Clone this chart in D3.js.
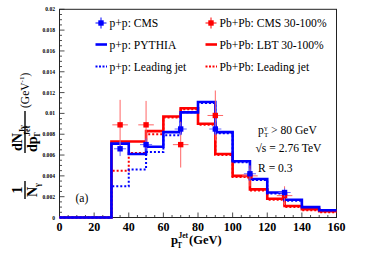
<!DOCTYPE html>
<html>
<head lang="en">
    <meta charset="UTF-8">
    <title>Photon-tagged jet spectrum</title>
    <script src="https://cdnjs.cloudflare.com/ajax/libs/d3/7.8.5/d3.min.js" charset="utf-8"></script>
    <style>
        body { margin: 0; background: white; }
    </style>
</head>

<body>
<div id="chart"></div>
<script>

// bin edges 0..160 in steps of 10
var binEdges = d3.range(0, 161, 10);

// histograms (one value per 10 GeV bin)
var ppPythia   = [0, 0, 0, 0.0071, 0.0061, 0.0068, 0.0082, 0.0101, 0.0111, 0.0082, 0.0054, 0.0037, 0.0024, 0.0017, 0.0010, 0.0007];
var ppLeading  = [0, 0, 0, 0.0030, 0.0046, 0.0063, 0.0079, 0.0101, 0.0110, 0.0081, 0.0053, 0.0036, 0.0023, 0.0016, 0.0010, 0.0007];
var pbLbt      = [0, 0, 0, 0.0073, 0.0073, 0.0083, 0.0097, 0.0105, 0.0090, 0.0061, 0.0040, 0.0027, 0.0018, 0.0011, 0.0008, 0.0006];
var pbLeading  = [0, 0, 0, 0.0045, 0.0062, 0.0080, 0.0096, 0.0104, 0.0089, 0.0060, 0.0039, 0.0026, 0.0017, 0.0010, 0.0007, 0.0005];

// CMS data points
var cmsX      = [35, 50, 70, 90, 110, 130];
var ppCms     = [0.0066, 0.0070, 0.0085, 0.0085, 0.0042, 0.0024];
var ppCmsErr  = [0.0007, 0.0006, 0.0006, 0.0006, 0.0005, 0.0004];
var pbCms     = [0.0089, 0.0089, 0.0070, 0.0098, 0.0040, 0.0021];
var pbCmsErr  = [0.0024, 0.0023, 0.0022, 0.0024, 0.0010, 0.0009];

var xTicks = [0, 20, 40, 60, 80, 100, 120, 140, 160];
var yTicks = [0, 0.002, 0.004, 0.006, 0.008, 0.01, 0.012, 0.014, 0.016, 0.018, 0.02];

var svgWidth = 365, svgHeight = 262;
var margin = {top: 9.3, bottom: 44.5, left: 59.5, right: 28.5};

var svg = d3.select('#chart').append('svg')
    .attr('width', svgWidth)
    .attr('height', svgHeight)
    .attr('font-family', '"Liberation Serif", "Times New Roman", Times, serif');

var x = d3.scaleLinear().domain([0, 160]).range([margin.left, svgWidth - margin.right]);
var y = d3.scaleLinear().domain([0, 0.02]).range([svgHeight - margin.bottom, margin.top]);

var blue = '#0000ff', red = '#ff0000';

// frame
svg.append('rect')
    .attr('x', x(0)).attr('y', y(0.02))
    .attr('width', x(160) - x(0)).attr('height', y(0) - y(0.02))
    .attr('fill', 'none').attr('stroke', '#222').attr('stroke-width', 1);

// ticks (inside)
var xMinor = d3.range(0, 161, 5);
svg.selectAll('.xt').data(xMinor).enter().append('line')
    .attr('x1', function(d){ return x(d); }).attr('x2', function(d){ return x(d); })
    .attr('y1', y(0)).attr('y2', function(d){ return y(0) - (d % 20 === 0 ? 5 : 2.5); })
    .attr('stroke', '#222').attr('stroke-width', 0.8);

var yMinor = d3.range(0, 41).map(function(i){ return i * 0.0005; });
svg.selectAll('.yt').data(yMinor).enter().append('line')
    .attr('y1', function(d){ return y(d); }).attr('y2', function(d){ return y(d); })
    .attr('x1', x(0)).attr('x2', function(d, i){ return x(0) + (i % 4 === 0 ? 5 : 2.5); })
    .attr('stroke', '#222').attr('stroke-width', 0.8);

// tick labels
svg.selectAll('.xl').data(xTicks).enter().append('text')
    .attr('x', function(d){ return x(d); }).attr('y', 231)
    .attr('text-anchor', 'middle').attr('font-size', 12).attr('font-weight', 'bold')
    .text(function(d){ return d; });

svg.selectAll('.yl').data(yTicks).enter().append('text')
    .attr('x', 55).attr('y', function(d){ return y(d) + 2; })
    .attr('text-anchor', 'end').attr('font-size', 5.6).attr('font-weight', 'bold')
    .text(function(d){ return d === 0 ? '0' : d3.format('.3~f')(d); });

// histogram as steps
function steps(vals) {
    var pts = [];
    vals.forEach(function(v, i){
        pts.push([binEdges[i], v]);
        pts.push([binEdges[i + 1], v]);
    });
    return pts;
}
var line = d3.line().x(function(d){ return x(d[0]); }).y(function(d){ return y(d[1]); });

function drawHist(vals, color, dotted) {
    svg.append('path').datum(steps(vals))
        .attr('d', line)
        .attr('fill', 'none')
        .attr('stroke', color)
        .attr('stroke-width', dotted ? 2 : 2.6)
        .attr('stroke-dasharray', dotted ? '2,2' : null);
}

drawHist(pbLbt, red, false);
drawHist(pbLeading, red, true);
drawHist(ppPythia, blue, false);
drawHist(ppLeading, blue, true);

// data points with error bars
function drawPoints(vals, errs, color, xerr, errColor) {
    var g = svg.append('g');
    cmsX.forEach(function(xv, i){
        g.append('line')
            .attr('x1', x(xv)).attr('x2', x(xv))
            .attr('y1', y(vals[i] - errs[i])).attr('y2', y(vals[i] + errs[i]))
            .attr('stroke', errColor).attr('stroke-width', 1);
        g.append('line')
            .attr('x1', x(xv - xerr)).attr('x2', x(xv + xerr))
            .attr('y1', y(vals[i])).attr('y2', y(vals[i]))
            .attr('stroke', errColor).attr('stroke-width', 1);
        g.append('rect')
            .attr('x', x(xv) - 2.7).attr('y', y(vals[i]) - 2.7)
            .attr('width', 5.4).attr('height', 5.4)
            .attr('fill', color);
    });
}
drawPoints(pbCms, pbCmsErr, red, 4.5, '#ff6666');
drawPoints(ppCms, ppCmsErr, blue, 3.5, '#6666ff');

// legend
var legendRows = [
    {col: 0, row: 0, type: 'point', color: blue, label: 'p+p: CMS'},
    {col: 0, row: 1, type: 'line', color: blue, label: 'p+p: PYTHIA'},
    {col: 0, row: 2, type: 'dot', color: blue, label: 'p+p: Leading jet'},
    {col: 1, row: 0, type: 'point', color: red, label: 'Pb+Pb: CMS 30-100%'},
    {col: 1, row: 1, type: 'line', color: red, label: 'Pb+Pb: LBT 30-100%'},
    {col: 1, row: 2, type: 'dot', color: red, label: 'Pb+Pb: Leading jet'}
];
var legX = [101, 211], legY = [23, 44.5, 66.5];
legendRows.forEach(function(d){
    var cx = legX[d.col], cy = legY[d.row];
    if (d.type === 'point') {
        svg.append('line').attr('x1', cx - 5.5).attr('x2', cx + 5.5).attr('y1', cy).attr('y2', cy)
            .attr('stroke', d.color).attr('stroke-width', 1);
        svg.append('line').attr('x1', cx).attr('x2', cx).attr('y1', cy - 5.5).attr('y2', cy + 5.5)
            .attr('stroke', d.color).attr('stroke-width', 1);
        svg.append('rect').attr('x', cx - 2.7).attr('y', cy - 2.7).attr('width', 5.4).attr('height', 5.4)
            .attr('fill', d.color);
    } else {
        svg.append('line').attr('x1', cx - 5.5).attr('x2', cx + 6).attr('y1', cy).attr('y2', cy)
            .attr('stroke', d.color)
            .attr('stroke-width', d.type === 'dot' ? 2 : 2.6)
            .attr('stroke-dasharray', d.type === 'dot' ? '2,1.5' : null);
    }
    svg.append('text').attr('x', cx + 8.5).attr('y', cy + 4)
        .attr('font-size', 11.6).text(d.label);
});

// annotations
var note = svg.append('g').attr('font-size', 11.6);
var t1 = note.append('text').attr('x', 258).attr('y', 133.5);
t1.append('tspan').text('p');
t1.append('tspan').attr('font-size', 7).attr('dx', 0.5).attr('dy', -4).text('γ');
t1.append('tspan').attr('font-size', 7).attr('dx', -3.5).attr('dy', 7.5).text('T');
t1.append('tspan').attr('dy', -3.5).text(' > 80 GeV');

note.append('text').attr('x', 255.5).attr('y', 152).text('√s = 2.76 TeV');
note.append('text').attr('x', 258).attr('y', 171.5).text('R = 0.3');
note.append('text').attr('x', 75.5).attr('y', 201.5).text('(a)');

// x axis title
var xt = svg.append('text').attr('x', 171).attr('y', 244)
    .attr('font-size', 12.5).attr('font-weight', 'bold');
xt.append('tspan').text('p');
xt.append('tspan').attr('font-size', 7.5).attr('dy', -6.3).attr('dx', 0.5).text('Jet');
xt.append('tspan').attr('font-size', 7.5).attr('dy', 10.5).attr('dx', -11).text('T');
xt.append('tspan').attr('dy', -4.2).attr('dx', 7).text('(GeV)');

// y axis title (rotated)
var yt = svg.append('g').attr('transform', 'translate(25,133) rotate(-90)')
    .attr('font-weight', 'bold');
yt.append('text').attr('x', -57).attr('y', -3).attr('text-anchor', 'middle')
    .attr('font-size', 14).text('1');
yt.append('line').attr('x1', -66).attr('x2', -48).attr('y1', 0).attr('y2', 0)
    .attr('stroke', '#000').attr('stroke-width', 1.4);
var nG = yt.append('text').attr('x', -64).attr('y', 11.5).attr('font-size', 14);
nG.append('tspan').text('N');
nG.append('tspan').attr('font-size', 8).attr('dy', 3).text('γ');

var num = yt.append('text').attr('x', -18).attr('y', -3).attr('font-size', 14);
num.append('tspan').text('dN');
num.append('tspan').attr('font-size', 8).attr('dy', 3).text('Jγ');
yt.append('line').attr('x1', -20).attr('x2', 22).attr('y1', 0).attr('y2', 0)
    .attr('stroke', '#000').attr('stroke-width', 1.4);
var den = yt.append('text').attr('x', -19).attr('y', 11.5).attr('font-size', 14);
den.append('tspan').text('dp');
den.append('tspan').attr('font-size', 8).attr('dy', -7).attr('dx', 0.5).text('Jet');
den.append('tspan').attr('font-size', 8).attr('dy', 10).attr('dx', -12).text('T');

var unit = yt.append('text').attr('x', 25).attr('y', 3.5).attr('font-size', 11.5)
    .attr('font-weight', 'normal');
unit.append('tspan').text('(GeV');
unit.append('tspan').attr('font-size', 7).attr('dy', -4.5).text('-1');
unit.append('tspan').attr('dy', 4.5).text(')');

</script>
</body>
</html>
